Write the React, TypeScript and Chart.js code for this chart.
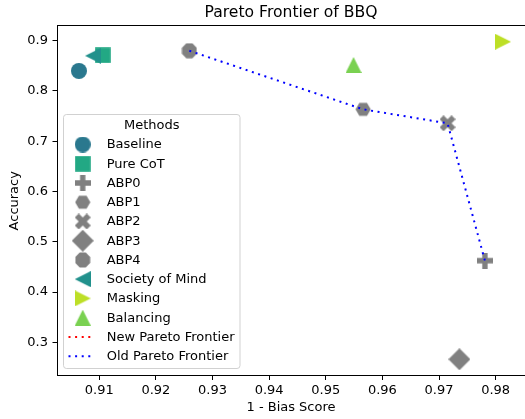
import React, { useEffect, useRef } from "react";
import { Chart, registerables } from "chart.js";

Chart.register(...registerables);

// ---- data ----
const methods = ["Baseline", "Pure CoT", "ABP0", "ABP1", "ABP2", "ABP3", "ABP4", "Society of Mind", "Masking", "Balancing"];
const biasX = [0.9064, 0.9106, 0.9781, 0.9566, 0.9715, 0.9736, 0.9259, 0.9089, 0.9813, 0.9549];
const accY = [0.840, 0.871, 0.4624, 0.7635, 0.7357, 0.2662, 0.880, 0.870, 0.898, 0.8517];
const methodColors = ["#2a788e", "#22a884", "#808080", "#808080", "#808080", "#808080", "#808080", "#21918c", "#bddf26", "#7ad151"];
const methodShapes = ["circle", "square", "plus", "hexagon", "x", "diamond", "octagon", "triLeft", "triRight", "triUp"];

const oldFrontierX = [0.9259, 0.9566, 0.9715, 0.9781];
const oldFrontierY = [0.880, 0.7635, 0.7357, 0.4624];
const newFrontierX: number[] = [];
const newFrontierY: number[] = [];

const xTicks = [0.91, 0.92, 0.93, 0.94, 0.95, 0.96, 0.97, 0.98];
const yTicks = [0.3, 0.4, 0.5, 0.6, 0.7, 0.8, 0.9];
const xLimits = [0.90253, 0.98518];
const yLimits = [0.23396, 0.92924];

const FONT = "'DejaVu Sans', sans-serif";

function makeMarker(shape: string, color: string): HTMLCanvasElement {
  const size = shape === "diamond" ? 22 : 16;
  const c = document.createElement("canvas");
  c.width = size;
  c.height = size;
  const g = c.getContext("2d")!;
  g.fillStyle = color;
  const h = size / 2;
  g.beginPath();
  const poly = (pts: number[][]) => {
    pts.forEach((p, i) => (i === 0 ? g.moveTo(p[0], p[1]) : g.lineTo(p[0], p[1])));
    g.closePath();
  };
  switch (shape) {
    case "circle":
      g.arc(h, h, h, 0, Math.PI * 2);
      break;
    case "square":
      g.rect(0.2, 0.2, size - 0.4, size - 0.4);
      break;
    case "plus": {
      const P = [[-1, -3], [1, -3], [1, -1], [3, -1], [3, 1], [1, 1], [1, 3], [-1, 3], [-1, 1], [-3, 1], [-3, -1], [-1, -1]];
      poly(P.map(([x, y]) => [h + (x / 6) * size, h + (y / 6) * size]));
      break;
    }
    case "x": {
      const P = [[-1, -2], [0, -1], [1, -2], [2, -1], [1, 0], [2, 1], [1, 2], [0, 1], [-1, 2], [-2, 1], [-1, 0], [-2, -1]];
      poly(P.map(([x, y]) => [h + (x / 4) * size, h + (y / 4) * size]));
      break;
    }
    case "diamond":
      poly([[h, 0], [size, h], [h, size], [0, h]]);
      break;
    case "hexagon": {
      const r = 7.6;
      const pts: number[][] = [];
      for (let k = 0; k < 6; k++) {
        const a = (k * Math.PI) / 3;
        pts.push([h + r * Math.cos(a), h + r * Math.sin(a)]);
      }
      poly(pts);
      break;
    }
    case "octagon": {
      const r = 8;
      const pts: number[][] = [];
      for (let k = 0; k < 8; k++) {
        const a = Math.PI / 8 + (k * Math.PI) / 4;
        pts.push([h + r * Math.cos(a), h + r * Math.sin(a)]);
      }
      poly(pts);
      break;
    }
    case "triUp":
      poly([[h, 0], [size, size], [0, size]]);
      break;
    case "triLeft":
      poly([[0, h], [size, 0], [size, size]]);
      break;
    case "triRight":
      poly([[size, h], [0, 0], [0, size]]);
      break;
  }
  g.fill();
  return c;
}

const frameAndLegend = {
  id: "frameAndLegend",
  afterDraw(chart: any) {
    const ctx = chart.ctx as CanvasRenderingContext2D;
    const a = chart.chartArea;
    ctx.save();
    // top spine
    ctx.strokeStyle = "#000";
    ctx.lineWidth = 1;
    ctx.beginPath();
    ctx.moveTo(a.left, 25.5);
    ctx.lineTo(a.right, 25.5);
    ctx.stroke();

    // legend
    const lx = 63.5, ly = 114.5, lw = 176.5, lh = 254;
    ctx.beginPath();
    (ctx as any).roundRect(lx, ly, lw, lh, 3);
    ctx.fillStyle = "rgba(255,255,255,0.8)";
    ctx.fill();
    ctx.strokeStyle = "rgba(204,204,204,0.9)";
    ctx.stroke();

    ctx.fillStyle = "#000";
    ctx.font = `13px ${FONT}`;
    ctx.textBaseline = "middle";
    ctx.textAlign = "center";
    ctx.fillText("Methods", lx + lw / 2, 125.5);
    ctx.textAlign = "left";
    const ds = chart.data.datasets;
    ds.forEach((d: any, i: number) => {
      const cy = 144.5 + i * 19.24;
      if (d.showLine) {
        ctx.save();
        ctx.strokeStyle = d.borderColor;
        ctx.lineWidth = 2;
        ctx.setLineDash([2, 4.6]);
        ctx.beginPath();
        ctx.moveTo(68.5, cy);
        ctx.lineTo(94, cy);
        ctx.stroke();
        ctx.restore();
      } else {
        const img = d.pointStyle as HTMLCanvasElement;
        ctx.drawImage(img, 82.7 - img.width / 2, cy - img.height / 2);
      }
      ctx.fillStyle = "#000";
      ctx.fillText(d.label, 106.7, cy + 0.5);
    });
    ctx.restore();
  },
};

export default function App() {
  const ref = useRef<HTMLCanvasElement | null>(null);
  useEffect(() => {
    if (!ref.current) return;
    const scatterSets = methods.map((m, i) => ({
      type: "scatter" as const,
      label: m,
      data: [{ x: biasX[i], y: accY[i] }],
      pointStyle: makeMarker(methodShapes[i], methodColors[i]),
      backgroundColor: methodColors[i],
      borderColor: methodColors[i],
      pointRadius: 8,
      showLine: false,
      order: 100 - i,
    }));
    const lineSets = [
      {
        type: "scatter" as const,
        label: "New Pareto Frontier",
        data: newFrontierX.map((x, i) => ({ x, y: newFrontierY[i] })),
        borderColor: "#ff0000",
        backgroundColor: "#ff0000",
        borderWidth: 2,
        borderDash: [2, 4.6],
        pointRadius: 0,
        showLine: true,
        order: -2,
      },
      {
        type: "scatter" as const,
        label: "Old Pareto Frontier",
        data: oldFrontierX.map((x, i) => ({ x, y: oldFrontierY[i] })),
        borderColor: "#0000ff",
        backgroundColor: "#0000ff",
        borderWidth: 2,
        borderDash: [2, 4.6],
        pointRadius: 0,
        showLine: true,
        order: -1,
      },
    ];
    const chart = new Chart(ref.current, {
      type: "scatter",
      data: { datasets: [...scatterSets, ...lineSets] as any },
      options: {
        animation: false,
        responsive: false,
        devicePixelRatio: 1,
        layout: { padding: 0, autoPadding: false },
        plugins: {
          legend: { display: false },
          tooltip: { enabled: false },
          title: {
            display: true,
            text: "Pareto Frontier of BBQ",
            color: "#000",
            font: { family: FONT, size: 15.6, weight: "normal" as any, lineHeight: 1.2 },
            padding: { top: 4, bottom: 3.3 },
            fullSize: false,
          },
        },
        scales: {
          x: {
            type: "linear",
            min: xLimits[0],
            max: xLimits[1],
            afterBuildTicks: (s: any) => {
              s.ticks = xTicks.map((v) => ({ value: v }));
            },
            afterFit: (s: any) => {
              s.height = 43.5;
              s.paddingLeft = 0;
              s.paddingRight = 0;
            },
            ticks: {
              autoSkip: false,
              maxRotation: 0,
              color: "#000",
              padding: 2.5,
              font: { family: FONT, size: 13 },
              callback: (v: any) => Number(v).toFixed(2),
            },
            grid: { drawOnChartArea: false, drawTicks: true, tickLength: 4.5, color: "#000", tickColor: "#000" },
            border: { display: true, color: "#000", width: 1 },
            title: {
              display: true,
              text: "1 - Bias Score",
              color: "#000",
              font: { family: FONT, size: 13 },
              padding: { top: 0, bottom: 4 },
            },
          },
          y: {
            type: "linear",
            min: yLimits[0],
            max: yLimits[1],
            afterBuildTicks: (s: any) => {
              s.ticks = yTicks.map((v) => ({ value: v }));
            },
            afterFit: (s: any) => {
              s.width = 57;
              s.paddingTop = 0;
              s.paddingBottom = 0;
            },
            ticks: {
              autoSkip: false,
              color: "#000",
              padding: 4.5,
              font: { family: FONT, size: 13 },
              callback: (v: any) => Number(v).toFixed(1),
            },
            grid: { drawOnChartArea: false, drawTicks: true, tickLength: 4.5, color: "#000", tickColor: "#000" },
            border: { display: true, color: "#000", width: 1 },
            title: {
              display: true,
              text: "Accuracy",
              color: "#000",
              font: { family: FONT, size: 13 },
              padding: { top: 7, bottom: 0 },
            },
          },
        },
      },
      plugins: [frameAndLegend],
    });
    return () => chart.destroy();
  }, []);
  return (
    <div style={{ position: "absolute", left: 0, top: 0, width: 525, height: 419, background: "#fff" }}>
      <canvas ref={ref} width={525} height={419} />
    </div>
  );
}
